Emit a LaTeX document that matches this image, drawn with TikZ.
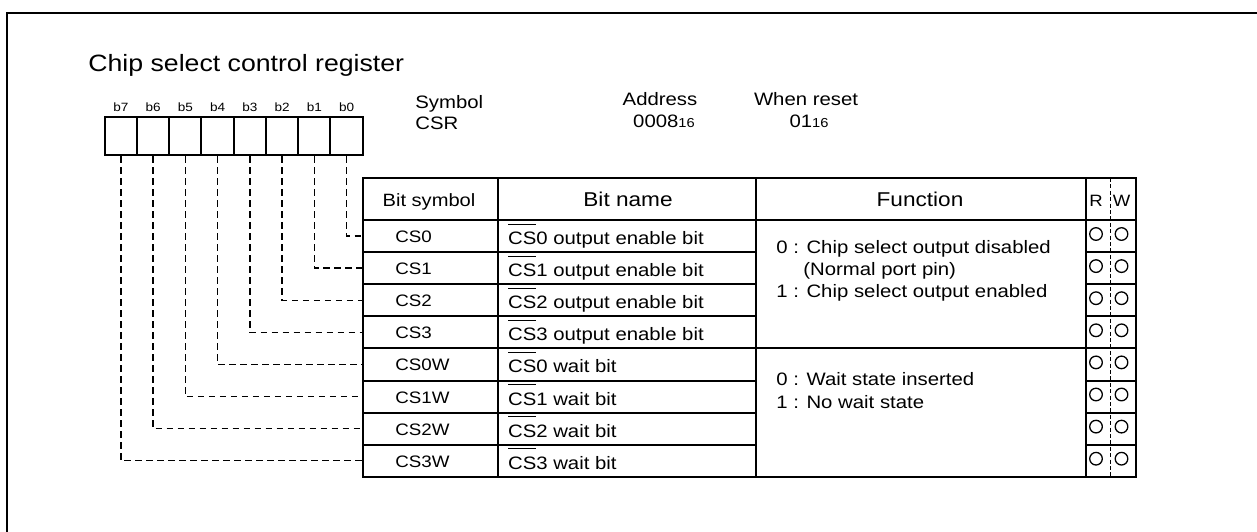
\documentclass[tikz,border=0pt]{standalone}
\usepackage{fontspec}
\setmainfont{Liberation Sans}[FakeStretch=1.13]
\usepackage{calc}
\newcommand{\barsym}[1]{\leavevmode\rlap{\rule[1.1em]{\widthof{#1}}{0.5pt}}#1}
\newcommand{\hexsub}[1]{{\fontsize{6.5}{7}\selectfont #1}}
\tikzset{
    regbox/.style={draw, line width=1pt, minimum width=16.125pt, minimum height=19pt, inner sep=0pt},
    bitlbl/.style={anchor=base, inner sep=0pt, font=\fontsize{6}{7}\selectfont},
    txt/.style={anchor=base west, inner sep=0pt, font=\fontsize{9}{11}\selectfont},
    symtxt/.style={anchor=base west, inner sep=0pt, font=\fontsize{8.3}{10}\selectfont},
    headtxt/.style={anchor=base, inner sep=0pt, font=\fontsize{10}{12}\selectfont},
    conn/.style={line width=0.7pt, dash pattern=on 3.25pt off 2.25pt},
    grid/.style={line width=1pt},
    rwcirc/.style={draw, circle, line width=0.65pt, minimum size=6.3pt, inner sep=0pt},
}
\usetikzlibrary{positioning}

\begin{document}
\begin{tikzpicture}[x=0.5pt,y=-0.5pt]% one unit = one pixel of the reference
\useasboundingbox (0,0) rectangle (1257,531);

% frame, only left and top edges show
\draw[line width=1pt] (6.5,600) |- (1300,13);

\node[anchor=base west, inner sep=0pt, font=\fontsize{11.8}{14}\selectfont] (title) at (88,71) {Chip select control register};

% register bits
\foreach \i in {0,...,7}{
    \node[regbox] (b\i) at ({346.6-32.25*\i},136) {};
    \node[bitlbl] (l\i) at ({346.6-32.25*\i},111.5) {b\i};
}

\node[txt] (symhd) at (415,108) {Symbol};
\node[txt] (symval) at (415,129) {CSR};
\node[headtxt, font=\fontsize{9}{11}\selectfont] (adrhd) at (660,105) {Address};
\node[headtxt, font=\fontsize{9}{11}\selectfont] (adrval) at (664,127.7) {0008\hexsub{16}};
\node[headtxt, font=\fontsize{9}{11}\selectfont] (rsthd) at (806,105) {When reset};
\node[headtxt, font=\fontsize{9}{11}\selectfont] (rstval) at (809,127.7) {01\hexsub{16}};

% table
\draw[grid] (362.7,178) rectangle (1135.5,476.8);
\draw[grid] (362.7,220) -- (1135.5,220);
\draw[grid] (497.7,178) -- (497.7,476.8)
            (755.7,178) -- (755.7,476.8)
            (1085.5,178) -- (1085.5,476.8);
\draw[grid] (362.7,348.4) -- (1135.5,348.4);
\foreach \y in {252.1,284.2,316.3,380.5,412.6,444.7}
    \draw[grid] (362.7,\y) -- (755.7,\y) (1085.5,\y) -- (1135.5,\y);
\draw[line width=0.4pt, dash pattern=on 2pt off 1.2pt] (1110.7,178) -- (1110.7,476.8);

\node[headtxt, font=\fontsize{8.9}{11}\selectfont] (hsym) at (429,206) {Bit symbol};
\node[headtxt] (hname) at (628,206) {Bit name};
\node[headtxt] (hfunc) at (920,206) {Function};
\node[headtxt, font=\fontsize{8.2}{10}\selectfont] (hr) at (1096,206) {R};
\node[headtxt, font=\fontsize{8.2}{10}\selectfont] (hw) at (1121.5,206) {W};

% rows and connectors
\foreach \sym/\dg/\wrd [count=\k from 0] in {CS0/0/output enable bit, CS1/1/output enable bit,
        CS2/2/output enable bit, CS3/3/output enable bit, CS0W/0/wait bit,
        CS1W/1/wait bit, CS2W/2/wait bit, CS3W/3/wait bit}{
    \node[symtxt] (s\k) at (395,{242.5+32.1*\k}) {\sym};
    \node[txt] (n\k) at (507.7,{244.5+32.1*\k}) {\barsym{CS}\dg{} \wrd};
    \node[rwcirc] (rc\k) at (1096,{234+32.1*\k}) {};
    \node[rwcirc] (wc\k) at (1121.5,{234+32.1*\k}) {};
    \coordinate (r\k) at (362.7,{236+32.1*\k});
    \draw[conn] (b\k.south) |- (r\k);
}

% function texts
\node[txt] (f0) at (776,253.3) {0 : Chip select output disabled};
\node[txt] (f1) at (803,275) {(Normal port pin)};
\node[txt] (f2) at (776,297.7) {1 : Chip select output enabled};
\node[txt] (f3) at (776,385) {0 : Wait state inserted};
\node[txt] (f4) at (776,408) {1 : No wait state};
\end{tikzpicture}
\end{document}
